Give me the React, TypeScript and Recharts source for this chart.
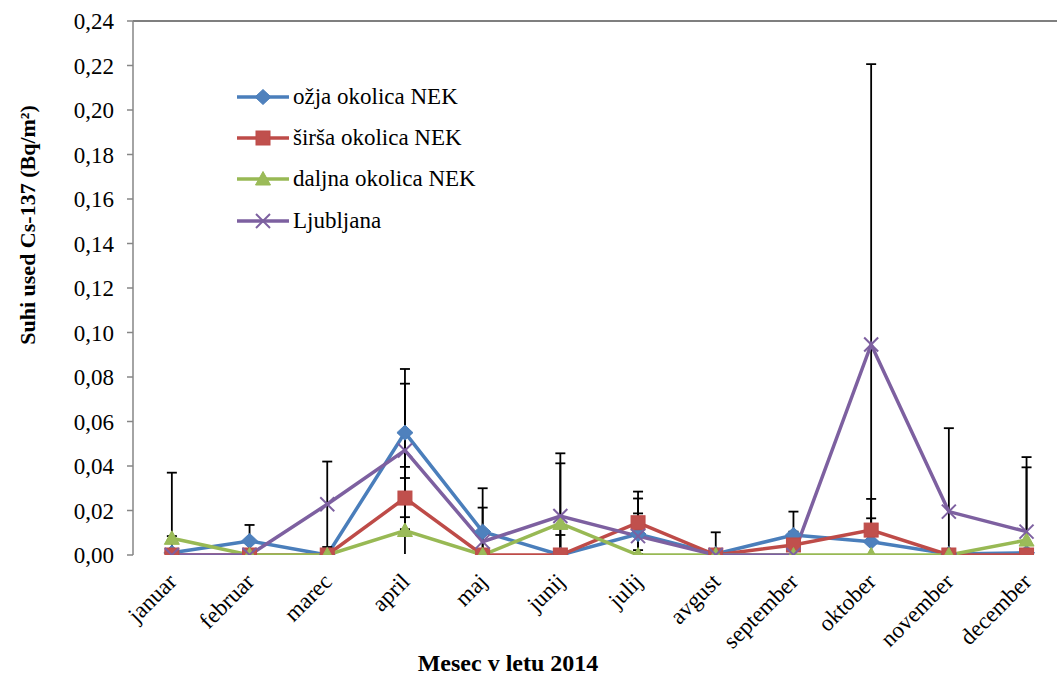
import React from 'react'
import { LineChart, Line, XAxis, YAxis, ErrorBar, ReferenceLine, Label } from 'recharts'

// mesečni podatki 2014
const months = ['januar', 'februar', 'marec', 'april', 'maj', 'junij', 'julij', 'avgust', 'september', 'oktober', 'november', 'december']

const ozja = [0.001, 0.0063, 0, 0.055, 0.0105, 0, 0.0094, 0.0005, 0.009, 0.006, 0.0005, 0.001]
const ozjaErr = [0.036, 0.0072, null, 0.0286, 0.0195, 0.009, 0.016, 0.0097, 0.0105, 0.0105, null, null]

const sirsa = [0, 0, 0, 0.0256, 0, 0, 0.0145, 0, 0.0045, 0.0112, 0, 0]
const sirsaErr = [null, null, null, 0.014, null, null, 0.014, null, 0.006, 0.014, null, null]

const daljna = [0.0075, 0, 0, 0.011, 0, 0.0142, 0, 0, 0, 0, 0, 0.0067]
const daljnaErr = [0.001, null, null, 0.0236, null, 0.027, 0.0022, null, null, null, null, 0.0327]

const ljubljana = [0, 0, 0.0228, 0.047, 0.006, 0.0175, 0.0085, 0, 0, 0.0946, 0.0195, 0.0105]
const ljubljanaErr = [null, null, 0.0192, 0.03, 0.0153, 0.0282, 0.0102, null, null, 0.126, 0.0375, 0.0335]

const yTicks = [0, 0.02, 0.04, 0.06, 0.08, 0.1, 0.12, 0.14, 0.16, 0.18, 0.2, 0.22, 0.24]
const boundaries = [0, 1, 2, 3, 4, 5, 6, 7, 8, 9, 10, 11, 12]

const data = months.map((m, i) => ({
  month: m,
  ozja: ozja[i], ozjaErr: ozjaErr[i],
  sirsa: sirsa[i], sirsaErr: sirsaErr[i],
  daljna: daljna[i], daljnaErr: daljnaErr[i],
  ljubljana: ljubljana[i], ljubljanaErr: ljubljanaErr[i],
}))

const FONT = "'Liberation Serif', 'DejaVu Serif', serif"
const AXIS = '#868686'

// plot geometry
const W = 1080
const H = 675
const M = { top: 21, right: 14.6, bottom: 0, left: 0 }
const Y_W = 133
const X_H = 120

const series = [
  { key: 'ozja', err: 'ozjaErr', name: 'ožja okolica NEK', color: '#4A7EBB', fill: '#4F81BD', marker: 'diamond' },
  { key: 'sirsa', err: 'sirsaErr', name: 'širša okolica NEK', color: '#BE4B48', fill: '#C0504D', marker: 'square' },
  { key: 'daljna', err: 'daljnaErr', name: 'daljna okolica NEK', color: '#98B954', fill: '#9BBB59', marker: 'triangle' },
  { key: 'ljubljana', err: 'ljubljanaErr', name: 'Ljubljana', color: '#7D60A0', fill: '#8064A2', marker: 'x' },
]

function Marker({ type, cx, cy, color, fill }: any) {
  if (cx == null || cy == null) return null
  if (type === 'diamond') {
    return <path d={`M${cx},${cy - 7.5} L${cx + 8},${cy} L${cx},${cy + 7.5} L${cx - 8},${cy} Z`} fill={fill} stroke={color} strokeWidth={1} />
  }
  if (type === 'square') {
    return <rect x={cx - 7} y={cy - 7} width={14} height={14} fill={fill} stroke={color} strokeWidth={1} />
  }
  if (type === 'triangle') {
    return <path d={`M${cx},${cy - 7.5} L${cx + 7.5},${cy + 6} L${cx - 7.5},${cy + 6} Z`} fill={fill} stroke={color} strokeWidth={1} />
  }
  return (
    <g stroke={color} strokeWidth={2}>
      <line x1={cx - 7} y1={cy - 7} x2={cx + 7} y2={cy + 7} />
      <line x1={cx - 7} y1={cy + 7} x2={cx + 7} y2={cy - 7} />
    </g>
  )
}

function MonthTick({ x, y, payload }: any) {
  const tx = x + 6
  const ty = y + 28
  return (
    <text x={tx} y={ty} transform={`rotate(-45 ${tx} ${ty})`} textAnchor="end" fontFamily={FONT} fontSize={23} fill="#000">
      {payload.value}
    </text>
  )
}

function LegendBox() {
  return (
    <div style={{ position: 'absolute', left: 236, top: 76, fontFamily: FONT, fontSize: 23, color: '#000' }}>
      {series.map((s) => (
        <div key={s.key} style={{ display: 'flex', alignItems: 'center', height: 41.3 }}>
          <svg width={57} height={20} style={{ display: 'block' }}>
            <line x1={1} y1={10} x2={53} y2={10} stroke={s.color} strokeWidth={3.5} />
            <Marker type={s.marker} cx={27} cy={10} color={s.color} fill={s.fill} />
          </svg>
          <span style={{ whiteSpace: 'nowrap' }}>{s.name}</span>
        </div>
      ))}
    </div>
  )
}

export default function App() {
  const plotX = M.left + Y_W
  const plotY = M.top
  const plotW = W - M.left - M.right - Y_W
  const plotH = H - M.top - M.bottom - X_H
  return (
    <div style={{ position: 'absolute', left: 0, top: 0, width: 1057, height: 675, overflow: 'hidden', background: '#fff' }}>
      <style>{`.recharts-errorBars, .recharts-errorBar { clip-path: url(#plotClip); }`}</style>
      <LineChart width={W} height={H} data={data} margin={M}>
        <defs>
          <clipPath id="plotClip">
            <rect x={plotX} y={plotY - 10} width={plotW} height={plotH + 9} />
          </clipPath>
        </defs>
        <XAxis
          xAxisId="a"
          type="number"
          domain={[0, 12]}
          ticks={boundaries}
          height={0}
          tick={false}
          tickSize={6}
          stroke={AXIS}
          strokeWidth={1.5}
          allowDataOverflow
        />
        <XAxis
          xAxisId="b"
          dataKey="month"
          type="category"
          interval={0}
          height={X_H}
          padding={{ left: 38.85, right: 38.85 }}
          axisLine={false}
          tickLine={false}
          tickSize={0}
          tickMargin={0}
          tick={<MonthTick />}
        >
          <Label
            content={() => (
              <text x={508} y={671} textAnchor="middle" fontFamily={FONT} fontSize={24} fontWeight="bold" fill="#000">
                Mesec v letu 2014
              </text>
            )}
          />
        </XAxis>
        <YAxis
          type="number"
          domain={[0, 0.24]}
          ticks={yTicks}
          allowDataOverflow
          width={Y_W}
          tickSize={6}
          tickMargin={13}
          stroke={AXIS}
          strokeWidth={1.5}
          tickFormatter={(v: number) => v.toFixed(2).replace('.', ',')}
          tick={{ fontFamily: FONT, fontSize: 23, fill: '#000' }}
        >
          <Label
            content={() => (
              <text x={35} y={225} transform="rotate(-90 35 225)" textAnchor="middle" fontFamily={FONT} fontSize={22} fontWeight="bold" fill="#000">
                Suhi used  Cs-137 (Bq/m²)
              </text>
            )}
          />
        </YAxis>
        <ReferenceLine xAxisId="b" y={0.24} stroke="#000" strokeWidth={1.2} />
        {series.map((s) => (
          <Line
            key={s.key}
            xAxisId="b"
            dataKey={s.key}
            name={s.name}
            type="linear"
            stroke={s.color}
            strokeWidth={3.5}
            isAnimationActive={false}
            dot={(p: any) => <Marker key={`${s.key}-${p.index}`} type={s.marker} cx={p.cx} cy={p.cy} color={s.color} fill={s.fill} />}
            activeDot={false}
          >
            <ErrorBar dataKey={s.err} width={5} strokeWidth={1.8} stroke="#000" direction="y" />
          </Line>
        ))}
      </LineChart>
      <LegendBox />
    </div>
  )
}
